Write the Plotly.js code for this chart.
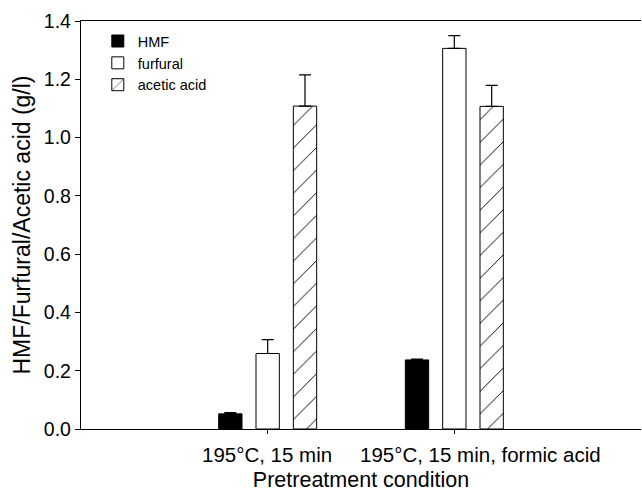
<!DOCTYPE html>
<html>
<head>
<meta charset="utf-8">
<script src="https://cdn.plot.ly/plotly-3.0.1.min.js"></script>
<style>html,body{margin:0;padding:0;background:#fff;}#chart{width:642px;height:493px;}</style>
</head>
<body>
<div id="chart"></div>
<script>
var categories = ["195°C, 15 min", "195°C, 15 min, formic acid"];
var tickLabels = ["195°C, 15 min", "195°C, 15 min, formic acid"];
var hmf = [0.052, 0.237];
var hmfErr = [0.004, 0.003];
var furfural = [0.259, 1.306];
var furfuralErr = [0.048, 0.044];
var acetic = [1.108, 1.107];
var aceticErr = [0.107, 0.072];
var seriesNames = ["HMF", "furfural", "acetic acid"];

var FONT = "Liberation Sans, Arial, Helvetica, sans-serif";
var labelShift = [-1, 26];

function errSpec(arr) {
  return {type: "data", array: arr, arrayminus: arr.map(function(){return 0;}), symmetric: false,
          color: "#000", thickness: 1.2, width: 6};
}

var traces = [
  {type: "bar", name: seriesNames[0], x: categories, y: hmf, error_y: errSpec(hmfErr),
   marker: {color: "#000", line: {color: "#000", width: 1}}},
  {type: "bar", name: seriesNames[1], x: categories, y: furfural, error_y: errSpec(furfuralErr),
   marker: {color: "#fff", line: {color: "#000", width: 1}}},
  {type: "bar", name: seriesNames[2], x: categories, y: acetic, error_y: errSpec(aceticErr),
   marker: {color: "#fff", line: {color: "#000", width: 1},
            pattern: {shape: "/", fgcolor: "#000", bgcolor: "#fff", size: 16, solidity: 0.06}}}
];

var annotations = categories.map(function(c, i) {
  return {text: tickLabels[i], x: c, xref: "x", y: 0, yref: "paper", xanchor: "center", yanchor: "top",
          xshift: labelShift[i], yshift: -12, showarrow: false,
          font: {family: FONT, size: 20.5, color: "#000"}};
});

var layout = {
  width: 642, height: 493,
  margin: {l: 81, r: 1, t: 21, b: 64},
  paper_bgcolor: "#fff", plot_bgcolor: "#fff",
  font: {family: FONT, color: "#000"},
  barmode: "group", bargap: 0.4, bargroupgap: 0.375,
  showlegend: true,
  legend: {x: 0.03, y: 0.99, xanchor: "left", yanchor: "top", bgcolor: "rgba(0,0,0,0)",
           font: {family: FONT, size: 14.5, color: "#000"}, tracegroupgap: 0, itemwidth: 30},
  annotations: annotations,
  xaxis: {
    type: "category", range: [-1, 2], showline: true, linecolor: "#000", linewidth: 1.2,
    mirror: true, ticks: "outside", ticklen: 4, tickcolor: "#000", showgrid: false, zeroline: false,
    showticklabels: false,
    title: {text: "\u00a0\u00a0\u00a0\u00a0Pretreatment condition", font: {family: FONT, size: 21.5, color: "#000"}, standoff: 38}
  },
  yaxis: {
    range: [0, 1.4], dtick: 0.2, tickformat: ".1f", showline: true, linecolor: "#000", linewidth: 1.2,
    ticks: "outside", ticklen: 5, tickcolor: "#000", showgrid: false, zeroline: false,
    tickfont: {family: FONT, size: 19.5, color: "#000"},
    title: {text: "HMF/Furfural/Acetic acid (g/l)", font: {family: FONT, size: 23, color: "#000"}, standoff: 6}
  }
};

Plotly.newPlot("chart", traces, layout, {displayModeBar: false, staticPlot: true});
</script>
</body>
</html>
